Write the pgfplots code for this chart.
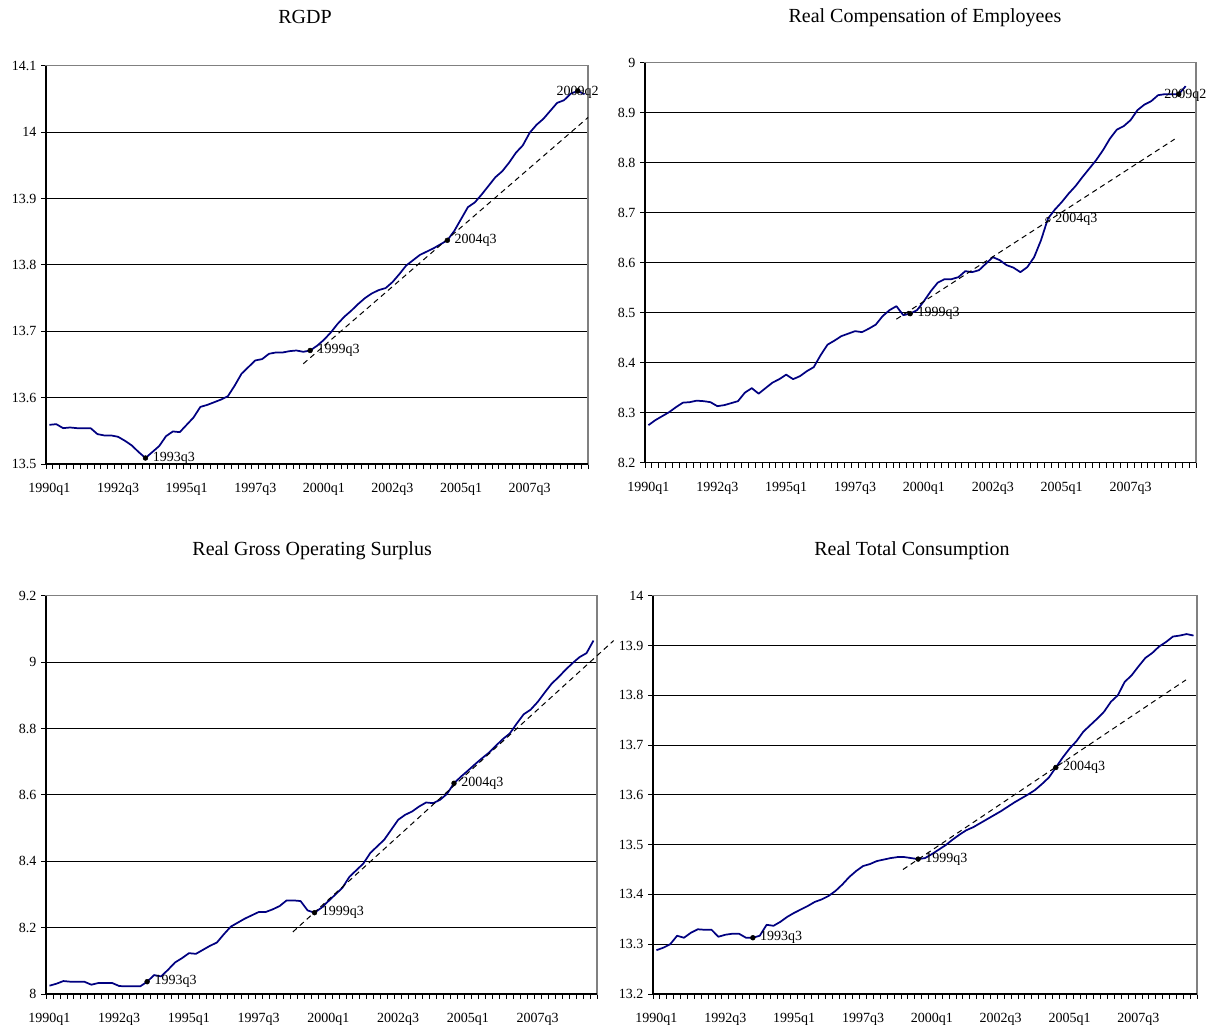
\documentclass[border=0pt]{standalone}
\usepackage{fontspec}
\setmainfont{Liberation Serif}
\usepackage{pgfplots}
\pgfplotsset{compat=1.18}
\definecolor{navyline}{RGB}{0,0,128}
\pgfplotsset{
  panel/.style={
    scale only axis,
    anchor=south west,
    clip=false,
    xmin=-0.5, xmax=78.5,
    xtick={-0.5,0.5,...,78.5},
    xticklabel={\mbox{}},
    extra x ticks={0,10,...,70},
    extra x tick labels={1990q1,1992q3,1995q1,1997q3,2000q1,2002q3,2005q1,2007q3},
    extra x tick style={major tick length=0pt, xticklabel style={yshift=-11pt}},
    xtick pos=left, ytick pos=left,
    tick align=outside,
    major tick length=3.7pt,
    ymajorgrids,
    grid style={black, line width=0.6pt},
    axis line style={draw=gray, line width=0.9pt},
    tick style={black, line width=0.6pt},
    ticklabel style={font=\fontsize{10.5}{12}\selectfont},
    /pgf/number format/assume math mode=true,
    title style={font=\fontsize{15}{17}\selectfont, anchor=base},
  },
  series/.style={navyline, line width=1.3pt, line join=round, mark=none},
  trend/.style={black, line width=0.75pt, dash pattern=on 4pt off 3pt, mark=none},
  dots/.style={only marks, mark=*, mark size=1.8pt, black,
    point meta=explicit symbolic, nodes near coords,
    nodes near coords style={anchor=west, xshift=2pt, font=\fontsize{10.5}{12}\selectfont, text=black}},
  cdots/.style={only marks, mark=*, mark size=1.8pt, black,
    point meta=explicit symbolic, nodes near coords,
    nodes near coords style={anchor=center, yshift=-1pt, font=\fontsize{10.5}{12}\selectfont, text=black}},
}
\begin{document}
\begin{tikzpicture}
\path[use as bounding box] (0,0) rectangle (911.25pt,771pt);

% ---------------- RGDP ----------------
\begin{axis}[panel, at={(34.5pt,423pt)}, width=406.5pt, height=298.7pt,
  ymin=13.5, ymax=14.1,
  ytick={13.5,13.6,13.7,13.8,13.9,14,14.1},
  yticklabels={13.5,13.6,13.7,13.8,13.9,14,14.1},
  title={RGDP}, title style={at={(0.478,1)}, yshift=26pt}]
\addplot[series] coordinates {
(0,13.559)(1,13.560)(2,13.554)(3,13.555)(4,13.554)(5,13.554)(6,13.554)(7,13.545)(8,13.543)(9,13.543)
(10,13.541)(11,13.535)(12,13.528)(13,13.518)(14,13.509)(15,13.518)(16,13.527)(17,13.542)(18,13.549)(19,13.548)
(20,13.559)(21,13.570)(22,13.586)(23,13.589)(24,13.593)(25,13.597)(26,13.602)(27,13.618)(28,13.636)(29,13.646)
(30,13.656)(31,13.658)(32,13.666)(33,13.668)(34,13.668)(35,13.670)(36,13.671)(37,13.669)(38,13.671)(39,13.678)
(40,13.687)(41,13.698)(42,13.711)(43,13.722)(44,13.731)(45,13.741)(46,13.750)(47,13.757)(48,13.762)(49,13.765)
(50,13.774)(51,13.786)(52,13.799)(53,13.807)(54,13.815)(55,13.820)(56,13.825)(57,13.831)(58,13.837)(59,13.851)
(60,13.869)(61,13.887)(62,13.894)(63,13.906)(64,13.919)(65,13.932)(66,13.941)(67,13.954)(68,13.969)(69,13.980)
(70,13.999)(71,14.011)(72,14.020)(73,14.032)(74,14.044)(75,14.048)(76,14.058)(77,14.062)(78,14.057)};
\addplot[trend] coordinates {(37,13.651)(78.5,14.022)};
\addplot[dots] coordinates {(14,13.509)[1993q3] (38,13.671)[1999q3] (58,13.837)[2004q3]};
\addplot[cdots] coordinates {(77,14.062)[2009q2]};
\draw[black, line width=0.9pt] (rel axis cs:0,1) -- (rel axis cs:0,0) -- (rel axis cs:1,0);
\end{axis}

% ---------------- Real Compensation ----------------
\begin{axis}[panel, at={(483.75pt,424pt)}, width=413.25pt, height=300pt,
  xmax=79.5, xtick={-0.5,0.5,...,79.5},
  ymin=8.2, ymax=9,
  ytick={8.2,8.3,8.4,8.5,8.6,8.7,8.8,8.9,9},
  yticklabels={8.2,8.3,8.4,8.5,8.6,8.7,8.8,8.9,9},
  title={Real Compensation of Employees}, title style={at={(0.508,1)}, yshift=23.8pt}]
\addplot[series] coordinates {
(0,8.275)(1,8.285)(2,8.293)(3,8.301)(4,8.311)(5,8.320)(6,8.321)(7,8.324)(8,8.323)(9,8.321)
(10,8.313)(11,8.315)(12,8.319)(13,8.323)(14,8.340)(15,8.349)(16,8.338)(17,8.349)(18,8.360)(19,8.367)
(20,8.376)(21,8.367)(22,8.373)(23,8.383)(24,8.391)(25,8.415)(26,8.436)(27,8.444)(28,8.453)(29,8.458)
(30,8.463)(31,8.461)(32,8.468)(33,8.476)(34,8.493)(35,8.505)(36,8.513)(37,8.495)(38,8.498)(39,8.505)
(40,8.523)(41,8.543)(42,8.560)(43,8.567)(44,8.567)(45,8.571)(46,8.583)(47,8.581)(48,8.585)(49,8.598)
(50,8.611)(51,8.605)(52,8.595)(53,8.590)(54,8.581)(55,8.591)(56,8.611)(57,8.645)(58,8.688)(59,8.706)
(60,8.721)(61,8.738)(62,8.753)(63,8.771)(64,8.788)(65,8.805)(66,8.825)(67,8.848)(68,8.866)(69,8.873)
(70,8.885)(71,8.905)(72,8.916)(73,8.923)(74,8.935)(75,8.937)(76,8.937)(77,8.937)(78,8.953)};
\addplot[trend] coordinates {(36,8.487)(76.4,8.847)};
\addplot[dots] coordinates {(38,8.498)[1999q3]};
\addplot[dots, mark=o, mark options={fill=white}] coordinates {(58,8.686)[2004q3]};
\addplot[cdots, nodes near coords style={xshift=5pt}] coordinates {(77,8.937)[2009q2]};
\draw[black, line width=0.9pt] (rel axis cs:0,1) -- (rel axis cs:0,0) -- (rel axis cs:1,0);
\end{axis}

% ---------------- Real Gross Operating Surplus ----------------
\begin{axis}[panel, at={(34.5pt,25.5pt)}, width=413.25pt, height=298.7pt,
  ymin=8, ymax=9.2,
  ytick={8,8.2,8.4,8.6,8.8,9,9.2},
  yticklabels={8,8.2,8.4,8.6,8.8,9,9.2},
  title={Real Gross Operating Surplus}, title style={at={(0.483,1)}, yshift=23.8pt}]
\addplot[series] coordinates {
(0,8.025)(1,8.031)(2,8.039)(3,8.037)(4,8.037)(5,8.037)(6,8.028)(7,8.033)(8,8.033)(9,8.033)
(10,8.024)(11,8.023)(12,8.023)(13,8.023)(14,8.037)(15,8.057)(16,8.053)(17,8.073)(18,8.095)(19,8.108)
(20,8.123)(21,8.121)(22,8.133)(23,8.145)(24,8.155)(25,8.180)(26,8.203)(27,8.215)(28,8.227)(29,8.237)
(30,8.247)(31,8.247)(32,8.255)(33,8.265)(34,8.282)(35,8.282)(36,8.280)(37,8.252)(38,8.245)(39,8.260)
(40,8.280)(41,8.300)(42,8.320)(43,8.353)(44,8.373)(45,8.393)(46,8.425)(47,8.445)(48,8.465)(49,8.495)
(50,8.525)(51,8.540)(52,8.550)(53,8.565)(54,8.577)(55,8.575)(56,8.585)(57,8.603)(58,8.635)(59,8.655)
(60,8.673)(61,8.692)(62,8.710)(63,8.727)(64,8.748)(65,8.768)(66,8.785)(67,8.815)(68,8.843)(69,8.857)
(70,8.880)(71,8.908)(72,8.935)(73,8.955)(74,8.977)(75,8.997)(76,9.015)(77,9.027)(78,9.065)};
\addplot[trend] coordinates {(34.9,8.187)(80.9,9.065)};
\addplot[dots] coordinates {(14,8.037)[1993q3] (38,8.245)[1999q3] (58,8.635)[2004q3]};
\draw[black, line width=0.9pt] (rel axis cs:0,1) -- (rel axis cs:0,0) -- (rel axis cs:1,0);
\end{axis}

% ---------------- Real Total Consumption ----------------
\begin{axis}[panel, at={(489.75pt,25.5pt)}, width=408pt, height=298.7pt,
  ymin=13.2, ymax=14,
  ytick={13.2,13.3,13.4,13.5,13.6,13.7,13.8,13.9,14},
  yticklabels={13.2,13.3,13.4,13.5,13.6,13.7,13.8,13.9,14},
  title={Real Total Consumption}, title style={at={(0.476,1)}, yshift=23.8pt}]
\addplot[series] coordinates {
(0,13.288)(1,13.293)(2,13.300)(3,13.317)(4,13.313)(5,13.323)(6,13.330)(7,13.329)(8,13.329)(9,13.315)
(10,13.319)(11,13.321)(12,13.321)(13,13.313)(14,13.313)(15,13.317)(16,13.339)(17,13.337)(18,13.345)(19,13.355)
(20,13.363)(21,13.370)(22,13.377)(23,13.385)(24,13.390)(25,13.397)(26,13.407)(27,13.420)(28,13.435)(29,13.447)
(30,13.457)(31,13.461)(32,13.467)(33,13.470)(34,13.473)(35,13.475)(36,13.475)(37,13.473)(38,13.471)(39,13.473)
(40,13.481)(41,13.490)(42,13.499)(43,13.510)(44,13.520)(45,13.529)(46,13.535)(47,13.543)(48,13.551)(49,13.559)
(50,13.567)(51,13.576)(52,13.585)(53,13.593)(54,13.601)(55,13.610)(56,13.622)(57,13.635)(58,13.655)(59,13.675)
(60,13.693)(61,13.708)(62,13.727)(63,13.740)(64,13.753)(65,13.767)(66,13.787)(67,13.800)(68,13.827)(69,13.840)
(70,13.858)(71,13.875)(72,13.885)(73,13.898)(74,13.907)(75,13.918)(76,13.920)(77,13.923)(78,13.920)};
\addplot[trend] coordinates {(35.8,13.450)(76.9,13.831)};
\addplot[dots] coordinates {(14,13.313)[1993q3] (38,13.471)[1999q3] (58,13.655)[2004q3]};
\draw[black, line width=0.9pt] (rel axis cs:0,1) -- (rel axis cs:0,0) -- (rel axis cs:1,0);
\end{axis}
\end{tikzpicture}
\end{document}
